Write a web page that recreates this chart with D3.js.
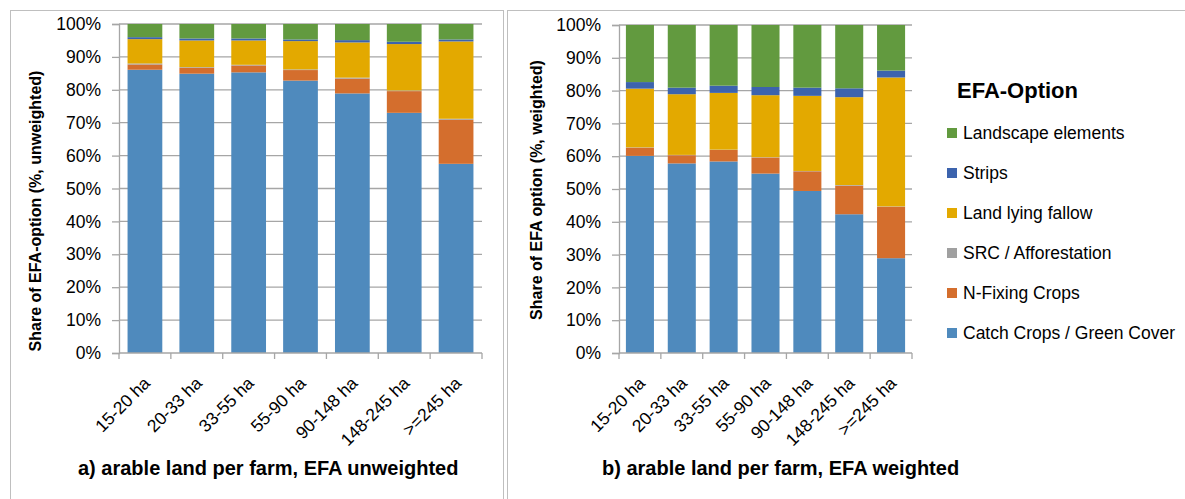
<!DOCTYPE html>
<html>
<head>
<meta charset="utf-8">
<script src="https://cdn.jsdelivr.net/npm/d3@7"></script>
<style>
  body { margin: 0; background: #fff; }
  svg { display: block; font-family: "Liberation Sans", Arial, sans-serif; }
</style>
</head>
<body>
<div id="chart"></div>
<script>
// Size classes (x axis)
var categories = ["15-20 ha", "20-33 ha", "33-55 ha", "55-90 ha", "90-148 ha", "148-245 ha", ">=245 ha"];

// EFA options, bottom to top in the stack
var seriesNames = ["Catch Crops / Green Cover", "N-Fixing Crops", "SRC / Afforestation",
                   "Land lying fallow", "Strips", "Landscape elements"];
var seriesColors = ["#4f8abd", "#d46e2d", "#a0a0a0", "#e3a900", "#3c63ad", "#629a3f"];

// a) unweighted shares (%)
var unweightedCatch     = [86.1, 84.9, 85.3, 82.8, 78.9, 73.0, 57.5];
var unweightedNFix      = [1.6, 1.8, 2.1, 3.2, 4.5, 6.6, 13.4];
var unweightedSRC       = [0.3, 0.2, 0.2, 0.2, 0.3, 0.2, 0.3];
var unweightedFallow    = [7.4, 8.1, 7.4, 8.6, 10.7, 14.1, 23.5];
var unweightedStrips    = [0.6, 0.6, 0.6, 0.5, 0.7, 0.7, 0.6];
var unweightedLandscape = [4.0, 4.4, 4.4, 4.7, 4.9, 5.4, 4.7];

// b) weighted shares (%)
var weightedCatch     = [60.1, 57.8, 58.4, 54.7, 49.4, 42.3, 28.9];
var weightedNFix      = [2.5, 2.5, 3.5, 4.9, 6.0, 8.7, 15.7];
var weightedSRC       = [0.1, 0.1, 0.1, 0.1, 0.1, 0.2, 0.1];
var weightedFallow    = [17.9, 18.5, 17.3, 18.9, 22.9, 26.8, 39.3];
var weightedStrips    = [2.0, 2.0, 2.2, 2.5, 2.5, 2.7, 2.1];
var weightedLandscape = [17.4, 19.1, 18.5, 18.9, 19.1, 19.3, 13.9];

var yTicks = [0, 10, 20, 30, 40, 50, 60, 70, 80, 90, 100];

var width = 1185;
var height = 499;

var svg = d3.select("#chart")
            .append("svg")
            .attr("width", width)
            .attr("height", height);

// panel frames
svg.append("rect")
   .attr("x", 10.5).attr("y", 10.5)
   .attr("width", 493).attr("height", 520)
   .attr("fill", "none").attr("stroke", "#bfbfbf");
svg.append("rect")
   .attr("x", 507.5).attr("y", 10.5)
   .attr("width", 700).attr("height", 520)
   .attr("fill", "none").attr("stroke", "#bfbfbf");

function buildRows(cols) {
  return categories.map(function(c, i) {
    var row = { cat: c };
    seriesNames.forEach(function(s, j) { row[s] = cols[j][i]; });
    return row;
  });
}

function drawPanel(opts) {
  var rows = buildRows(opts.cols);
  var stacked = d3.stack().keys(seriesNames)(rows);

  var x = d3.scaleBand()
            .domain(categories)
            .range([opts.left, opts.right])
            .paddingInner(0.33)
            .paddingOuter(0.165);

  var y = d3.scaleLinear()
            .domain([0, 100])
            .range([opts.bottom, opts.top]);

  var g = svg.append("g");

  // gridlines
  g.selectAll("line.grid")
   .data(yTicks.slice(1))
   .enter()
   .append("line")
   .attr("x1", opts.left).attr("x2", opts.right)
   .attr("y1", function(d) { return y(d); })
   .attr("y2", function(d) { return y(d); })
   .attr("stroke", "#a6a6a6")
   .attr("stroke-width", 1.3);

  // stacked bars
  g.selectAll("g.series")
   .data(stacked)
   .enter()
   .append("g")
   .attr("fill", function(d, i) { return seriesColors[i]; })
   .selectAll("rect")
   .data(function(d) { return d; })
   .enter()
   .append("rect")
   .attr("x", function(d) { return x(d.data.cat); })
   .attr("y", function(d) { return y(d[1]); })
   .attr("width", x.bandwidth())
   .attr("height", function(d) { return y(d[0]) - y(d[1]); });

  // y axis
  var yAxis = g.append("g")
               .attr("transform", "translate(" + opts.left + ",0)")
               .call(d3.axisLeft(y)
                       .tickValues(yTicks)
                       .tickSize(7)
                       .tickPadding(11)
                       .tickFormat(function(d) { return d + "%"; }));
  yAxis.select(".domain").attr("stroke", "#a6a6a6").attr("stroke-width", 1.3);
  yAxis.selectAll(".tick line").attr("stroke", "#a6a6a6").attr("stroke-width", 1.3);
  yAxis.selectAll(".tick text")
       .attr("fill", "#000")
       .style("font-size", "17.5px");

  // x axis baseline and boundary ticks
  g.append("line")
   .attr("x1", opts.left).attr("x2", opts.right)
   .attr("y1", y(0)).attr("y2", y(0))
   .attr("stroke", "#a6a6a6").attr("stroke-width", 1.3);
  var step = x.step();
  g.selectAll("line.xtick")
   .data(d3.range(categories.length + 1))
   .enter()
   .append("line")
   .attr("x1", function(i) { return opts.left + i * step; })
   .attr("x2", function(i) { return opts.left + i * step; })
   .attr("y1", y(0)).attr("y2", y(0) + 6)
   .attr("stroke", "#a6a6a6").attr("stroke-width", 1.3);

  // rotated category labels
  g.selectAll("text.xlab")
   .data(categories)
   .enter()
   .append("text")
   .attr("transform", function(d) {
     return "translate(" + (x(d) + x.bandwidth() / 2 + 2) + "," + (y(0) + 27) + ") rotate(-45)";
   })
   .attr("text-anchor", "end")
   .attr("dy", "0.35em")
   .style("font-size", "17.5px")
   .text(function(d) { return d; });

  // y title
  g.append("text")
   .attr("transform", "translate(" + opts.titleX + "," + opts.titleY + ") rotate(-90)")
   .attr("text-anchor", "middle")
   .attr("dy", "0.35em")
   .style("font-size", "16px")
   .style("font-weight", "bold")
   .text(opts.yTitle);

  // panel caption
  g.append("text")
   .attr("x", opts.captionX)
   .attr("y", 475)
   .style("font-size", "20px")
   .style("font-weight", "bold")
   .text(opts.caption);
}

drawPanel({
  cols: [unweightedCatch, unweightedNFix, unweightedSRC, unweightedFallow, unweightedStrips, unweightedLandscape],
  left: 119, right: 482, top: 24, bottom: 353,
  titleX: 35, titleY: 211,
  yTitle: "Share of EFA-option (%, unweighted)",
  captionX: 78,
  caption: "a) arable land per farm, EFA unweighted"
});

drawPanel({
  cols: [weightedCatch, weightedNFix, weightedSRC, weightedFallow, weightedStrips, weightedLandscape],
  left: 619, right: 912, top: 25, bottom: 353,
  titleX: 536, titleY: 190,
  yTitle: "Share of EFA option (%, weighted)",
  captionX: 602,
  caption: "b) arable land per farm, EFA weighted"
});

// legend (top entry first, as in the reference)
var legend = svg.append("g");
legend.append("text")
      .attr("x", 957).attr("y", 98)
      .style("font-size", "22px")
      .style("font-weight", "bold")
      .text("EFA-Option");

var legendOrder = d3.range(seriesNames.length).reverse();
var legendItems = legend.selectAll("g.item")
                        .data(legendOrder)
                        .enter()
                        .append("g")
                        .attr("transform", function(d, i) { return "translate(947," + (133 + i * 40) + ")"; });
legendItems.append("rect")
           .attr("x", 0).attr("y", -5)
           .attr("width", 10).attr("height", 10)
           .attr("fill", function(d) { return seriesColors[d]; });
legendItems.append("text")
           .attr("x", 16)
           .attr("dy", "0.35em")
           .style("font-size", "17.5px")
           .text(function(d) { return seriesNames[d]; });
</script>
</body>
</html>
